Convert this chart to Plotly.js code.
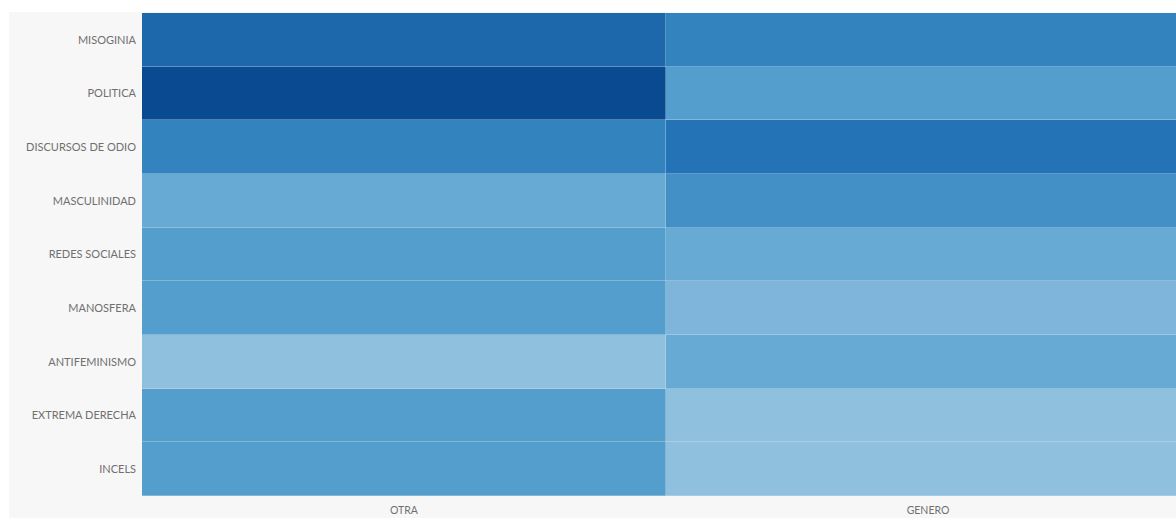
<!DOCTYPE html>
<html>
<head>
<meta charset="utf-8">
<script src="https://cdn.plot.ly/plotly-3.0.1.min.js"></script>
<style>
html, body { margin: 0; padding: 0; background: #ffffff; overflow: hidden; }
#chart { position: absolute; left: 9px; top: 12px; width: 1181px; height: 506px; }
</style>
</head>
<body>
<div id="chart"></div>
<script>
// Data
const columns = ["OTRA", "GENERO"];
const topics = ["MISOGINIA", "POLITICA", "DISCURSOS DE ODIO", "MASCULINIDAD", "REDES SOCIALES", "MANOSFERA", "ANTIFEMINISMO", "EXTREMA DERECHA", "INCELS"];
const otra   = [8, 10, 6, 3, 4, 4, 1, 4, 4];
const genero = [6, 4, 7, 5, 3, 2, 3, 1, 1];

const z = topics.map((t, i) => [otra[i], genero[i]]);

const colorscale = [
  [0.000, "rgb(143,192,222)"],
  [0.111, "rgb(127,181,218)"],
  [0.222, "rgb(103,170,212)"],
  [0.333, "rgb(84,158,205)"],
  [0.444, "rgb(67,144,198)"],
  [0.556, "rgb(51,131,190)"],
  [0.667, "rgb(36,115,183)"],
  [0.778, "rgb(28,104,170)"],
  [0.889, "rgb(18,89,157)"],
  [1.000, "rgb(10,74,144)"]
];

const trace = {
  type: "heatmap",
  x: columns,
  y: topics,
  z: z,
  zmin: 1,
  zmax: 10,
  colorscale: colorscale,
  showscale: false,
  xgap: 0.35,
  ygap: 0.35,
  hoverongaps: false
};

const layout = {
  width: 1181,
  height: 506,
  margin: { l: 133, r: 0, t: 1, b: 22, pad: 0 },
  paper_bgcolor: "#f7f7f7",
  plot_bgcolor: "#d8e6f0",
  font: { family: "Lato, 'Open Sans', sans-serif", size: 11, color: "#707070" },
  xaxis: { showgrid: false, zeroline: false, showline: false, ticks: "", tickfont: { size: 10.5 }, ticklabelstandoff: 6, fixedrange: true },
  yaxis: { autorange: "reversed", showgrid: false, zeroline: false, showline: false, ticks: "", ticklabelstandoff: 5, fixedrange: true }
};

Plotly.newPlot("chart", [trace], layout, { displayModeBar: false, staticPlot: true });
</script>
</body>
</html>
